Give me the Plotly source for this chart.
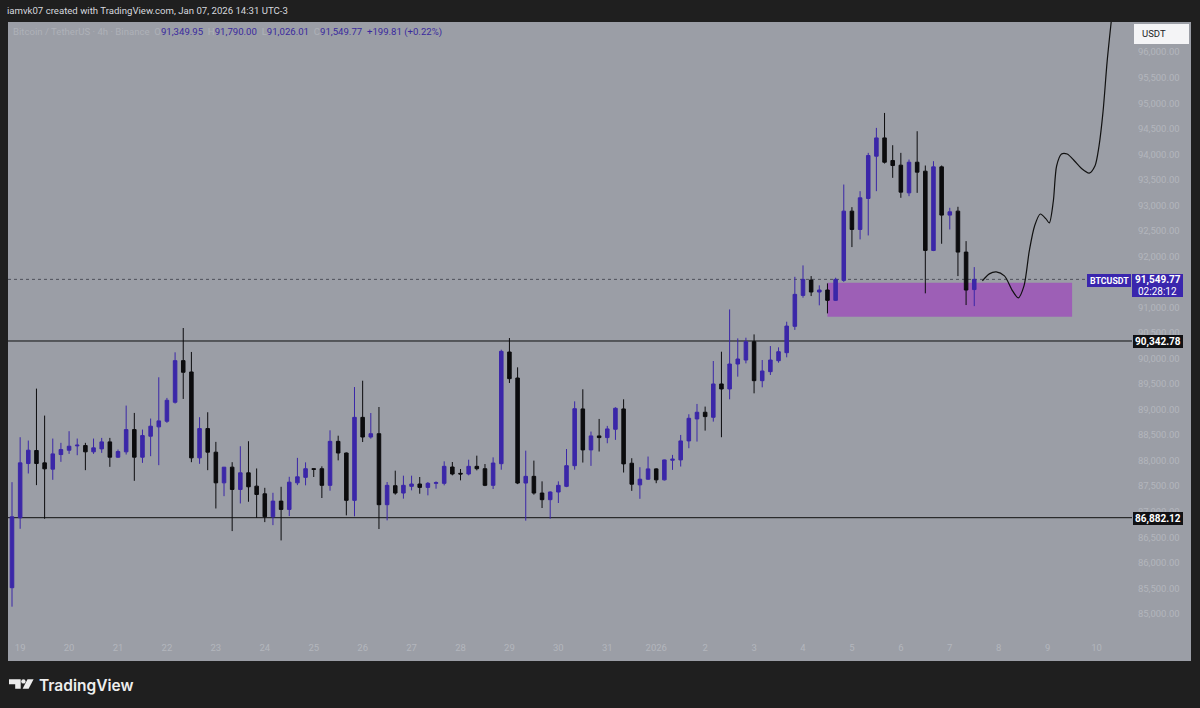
import pandas as pd
import plotly.graph_objects as go

# ---------------- data ----------------
opens = [85511, 86881, 87943, 88198, 87956, 87833, 88119, 88204, 88289, 88295,
         88172, 88230, 88367, 88067, 88172, 88608, 88067, 88478, 88661, 88771,
         89143, 89958, 89736, 88054, 88628, 88165, 87565, 87872, 87435, 87761,
         87500, 87350, 86900, 87207, 87044, 87565, 87672, 87842, 87842, 87516,
         88377, 88149, 87222, 88847, 88462, 88527, 87137, 87509, 87365, 87496,
         87542, 87476, 87555, 87555, 87875, 87751, 87738, 87888, 87842, 87516,
         87940, 90127, 89618, 87561, 87692, 87365, 87235, 87385, 87496, 87901,
         89012, 88210, 88484, 88451, 88614, 89012, 87949, 87525, 87636, 87838,
         87623, 88008, 88014, 88386, 88816, 88947, 88849, 89501, 89403, 89892,
         89970, 90329, 89566, 89742, 89957, 90114, 90630, 91236, 91536, 91302,
         91341, 91139, 91530, 92886, 92527, 93134, 93962, 94320, 93877, 93786,
         93244, 93844, 93668, 92116, 93753, 92808, 92886, 92084, 91349.95]
highs = [87578, 88458, 88393, 89410, 88882, 88432, 88348, 88576, 88432, 88348,
         88432, 88445, 88445, 88217, 89078, 88934, 88608, 88824, 89632, 89228,
         90121, 90597, 90128, 88850, 88947, 88367, 87872, 87969, 88282, 88380,
         87846, 87467, 87370, 87487, 87683, 88054, 87966, 87855, 87888, 88593,
         88488, 88160, 89441, 89565, 88932, 89050, 87581, 87803, 87705, 87705,
         87679, 87581, 87594, 87986, 87973, 87836, 88018, 88097, 87933, 88064,
         90172, 90401, 89827, 88195, 88000, 87594, 87398, 87594, 88227, 89161,
         89397, 88569, 88816, 88680, 89045, 89201, 88047, 87871, 88080, 87851,
         88020, 88112, 88503, 88908, 89110, 89058, 89951, 90133, 90961, 90394,
         90407, 90472, 89970, 90244, 90218, 90720, 91600, 91823, 91614, 91432,
         91471, 91582, 93407, 92964, 93277, 94027, 94516, 94809, 94177, 94027,
         93896, 94451, 93779, 93864, 93779, 92951, 92971, 92299, 91790.00]
lows = [85140, 86665, 87748, 87520, 86861, 87624, 87976, 88132, 88106, 87813,
        88132, 88152, 87878, 88054, 88119, 87604, 87956, 88087, 87911, 88739,
        89117, 89208, 87969, 87937, 87813, 87063, 87304, 86620, 87161, 87194,
        86881, 86796, 86737, 86437, 86913, 87520, 87516, 87679, 87268, 87411,
        88005, 86928, 86909, 88364, 88430, 86660, 86830, 87333, 87255, 87418,
        87352, 87320, 87450, 87516, 87712, 87614, 87712, 87809, 87500, 87444,
        87822, 89520, 87540, 86824, 87333, 87072, 86863, 87170, 87480, 87822,
        87962, 87897, 88178, 88340, 88406, 87767, 87408, 87252, 87623, 87558,
        87610, 87819, 87884, 88243, 88373, 88588, 88764, 88458, 89201, 89644,
        89905, 89318, 89436, 89677, 89918, 90023, 90560, 91191, 91223, 91041,
        90884, 91126, 91500, 92182, 92332, 92410, 93277, 93818, 93538, 93147,
        93179, 93244, 91276, 92103, 92247, 92527, 91614, 91047, 91026.01]
closes = [86900, 87956, 88204, 87943, 87839, 88132, 88217, 88282, 88302, 88172,
          88250, 88367, 88067, 88178, 88608, 88067, 88491, 88674, 88778, 89182,
          89958, 89730, 88054, 88628, 88165, 87565, 87872, 87435, 87761, 87487,
          87337, 86900, 87207, 87044, 87578, 87683, 87842, 87829, 87516, 88377,
          88149, 87222, 88847, 88462, 88527, 87137, 87516, 87365, 87516, 87542,
          87476, 87555, 87568, 87888, 87738, 87738, 87888, 87842, 87516, 87953,
          90140, 89605, 87561, 87692, 87365, 87235, 87385, 87516, 87901, 89017,
          88210, 88484, 88451, 88621, 89025, 87936, 87538, 87636, 87838, 87623,
          88014, 88027, 88386, 88829, 88947, 88862, 89501, 89403, 89892, 89990,
          90329, 89566, 89755, 89970, 90133, 90635, 91256, 91549, 91302, 91341,
          91139, 91549, 92886, 92527, 93147, 93975, 94320, 93844, 93779, 93258,
          93844, 93649, 92116, 93753, 92808, 92873, 92084, 91341, 91549.77]

start_time = "2025-12-18 21:00"
bar_hours = 4
day_labels = ["19", "20", "21", "22", "23", "24", "25", "26", "27", "28", "29",
              "30", "31", "2026", "2", "3", "4", "5", "6", "7", "8", "9", "10"]
# 91,500 sits under the live price label in the reference, so it is not shown
price_ticks = [85000 + 500 * k for k in range(23) if 85000 + 500 * k != 91500]

levels = [90342.78, 86882.12]
last_price = 91549.77
zone_bars = [100, 130]
zone_prices = [90820, 91485]

# hand-drawn projection path (bar position, price)
proj_bar = [119.0, 119.85, 120.7, 121.7, 122.7, 123.4, 124.1, 124.75, 125.4, 126.1,
            126.8, 127.2, 127.7, 128.1, 128.7, 129.4, 130.3, 131.1, 132.1, 132.8,
            133.3, 133.8, 134.3, 134.9]
proj_price = [91520, 91657, 91696, 91618, 91324, 91187, 91422, 92107, 92596, 92830,
              92733, 92655, 93085, 93770, 94004, 94004, 93867, 93730, 93632, 93770,
              94161, 94845, 95823, 96750]

# ---------------- helpers ----------------
t0 = pd.Timestamp(start_time)
step = pd.Timedelta(hours=bar_hours)
times = [t0 + i * step for i in range(len(opens))]


def bar_time(b):
    return t0 + b * step


FIG_W, FIG_H = 1200, 708
L, R, T, B = 8, 1130, 22, 640
PW, PH = R - L, B - T


def px(X):
    return (X - L) / PW


def py(Y):
    return (B - Y) / PH


BG = "#1f1f1f"
PANEL = "#9b9ea6"
BULL = "#3b27a8"
BEAR = "#0c0c0e"
AXIS_TXT = "#b3b6bd"
FONT = "Roboto"

fig = go.Figure()

fig.add_trace(go.Candlestick(
    x=times, open=opens, high=highs, low=lows, close=closes,
    increasing=dict(line=dict(color=BULL, width=1), fillcolor=BULL),
    decreasing=dict(line=dict(color=BEAR, width=1), fillcolor=BEAR),
    whiskerwidth=0, showlegend=False, hoverinfo="skip",
))

fig.add_trace(go.Scatter(
    x=[bar_time(b) for b in proj_bar], y=proj_price, mode="lines",
    line=dict(color="#111111", width=1.2, shape="spline", smoothing=0.8),
    showlegend=False, hoverinfo="skip",
))

shapes = []
# grey chart panel
shapes.append(dict(type="rect", xref="paper", yref="paper", x0=px(8), x1=px(1191),
                   y0=py(661), y1=py(22), fillcolor=PANEL, line=dict(width=0), layer="below"))
# demand zone
shapes.append(dict(type="rect", xref="x", yref="y",
                   x0=bar_time(zone_bars[0]), x1=bar_time(zone_bars[1]),
                   y0=zone_prices[0], y1=zone_prices[1],
                   fillcolor="#9d5fb6", line=dict(width=0), layer="below"))
# horizontal levels
for lv in levels:
    shapes.append(dict(type="line", xref="paper", yref="y", x0=0, x1=px(1132),
                       y0=lv, y1=lv, line=dict(color="#101010", width=1), layer="below"))
# last price dotted line
shapes.append(dict(type="line", xref="paper", yref="y", x0=0, x1=px(1087),
                   y0=last_price, y1=last_price,
                   line=dict(color="#4e4f5a", width=1, dash="dot"), layer="below"))


def box(x0, x1, y0, y1, color):
    shapes.append(dict(type="rect", xref="paper", yref="paper", x0=px(x0), x1=px(x1),
                       y0=py(y1), y1=py(y0), fillcolor=color, line=dict(width=0),
                       layer="above"))


box(1134, 1189, 24, 44, "#f4f4f6")
box(1087, 1131, 274, 287, "#3a26ad")
box(1132, 1183, 274, 297, "#3a26ad")
box(1133, 1183, 335, 348, "#111114")
box(1133, 1183, 512, 525, "#111114")

# TradingView logo
LOGO = "#eeeeee"
shapes.append(dict(type="path", xref="paper", yref="paper",
                   path=f"M {px(9)} {py(679.3)} L {px(20.7)} {py(679.3)} L {px(20.7)} {py(688.7)} "
                        f"L {px(15.2)} {py(688.7)} L {px(15.2)} {py(684.2)} L {px(9)} {py(684.2)} Z",
                   fillcolor=LOGO, line=dict(width=0), layer="above"))
shapes.append(dict(type="circle", xref="paper", yref="paper", x0=px(21.2), x1=px(25.6),
                   y0=py(683.6), y1=py(679.2), fillcolor=LOGO, line=dict(width=0),
                   layer="above"))
shapes.append(dict(type="path", xref="paper", yref="paper",
                   path=f"M {px(27.5)} {py(679.3)} L {px(33.6)} {py(679.3)} L {px(28.6)} {py(688.7)} "
                        f"L {px(22.6)} {py(688.7)} Z",
                   fillcolor=LOGO, line=dict(width=0), layer="above"))

annotations = []


def text(x, y, s, size=10, color="#ffffff", xanchor="left", weight=None, family=FONT):
    f = dict(size=size, color=color, family=family)
    if weight:
        f["weight"] = weight
    annotations.append(dict(xref="paper", yref="paper", x=px(x), y=py(y), text=s,
                            showarrow=False, xanchor=xanchor, yanchor="middle", font=f))


text(5, 11, "iamvk07 created with TradingView.com, Jan 07, 2026 14:31 UTC-3", size=9.6,
     color="#d6d8de")
faint = "#aeb1b8"
val = "#3a2a9e"
hdr = (f"<span style='color:{faint}'>Bitcoin / TetherUS · 4h · Binance  O</span>"
       f"<span style='color:{val}'>91,349.95</span>"
       f"<span style='color:{faint}'>  H</span><span style='color:{val}'>91,790.00</span>"
       f"<span style='color:{faint}'>  L</span><span style='color:{val}'>91,026.01</span>"
       f"<span style='color:{faint}'>  C</span><span style='color:{val}'>91,549.77  +199.81 (+0.22%)</span>")
text(11, 32, hdr, size=9.6)

text(1140, 34, "USDT", size=9.5, color="#1a1c24")
text(1109, 280.5, "BTCUSDT", size=8.8, xanchor="center", weight="bold")
text(1157.5, 280, f"{last_price:,.2f}", size=10, xanchor="center", weight="bold")
text(1157.5, 291, "02:28:12", size=10, xanchor="center")
text(1158, 341.5, f"{levels[0]:,.2f}", size=10, xanchor="center", weight="bold")
text(1158, 518.5, f"{levels[1]:,.2f}", size=10, xanchor="center", weight="bold")
text(37, 685, "TradingView", size=15.5, color=LOGO, weight=600, family="Inter")

# axis ranges (pixel window -> data)
x_range = [bar_time(-0.49), bar_time(137.1)]
y_range = [84487, 96590]

fig.update_layout(
    width=FIG_W, height=FIG_H,
    margin=dict(l=L, r=FIG_W - R, t=T, b=FIG_H - B),
    paper_bgcolor=BG, plot_bgcolor=PANEL,
    shapes=shapes, annotations=annotations,
    boxgap=0.38,
    xaxis=dict(type="date", range=x_range, rangeslider=dict(visible=False),
               tickvals=[bar_time(1 + 6 * k) for k in range(len(day_labels))],
               ticktext=day_labels, showgrid=False, zeroline=False, showline=False,
               ticks="", tickfont=dict(size=9.5, color=AXIS_TXT, family=FONT)),
    yaxis=dict(side="right", range=y_range, tickvals=price_ticks,
               ticktext=[f"{p:,.2f}" for p in price_ticks], showgrid=False,
               zeroline=False, showline=False, ticks="outside", ticklen=5,
               tickcolor="rgba(0,0,0,0)",
               tickfont=dict(size=9.5, color=AXIS_TXT, family=FONT)),
    font=dict(family=FONT),
)

fig.write_html("out.html", config={"displayModeBar": False},
               post_script="document.body.style.margin='0';document.body.style.background='#1f1f1f';")
